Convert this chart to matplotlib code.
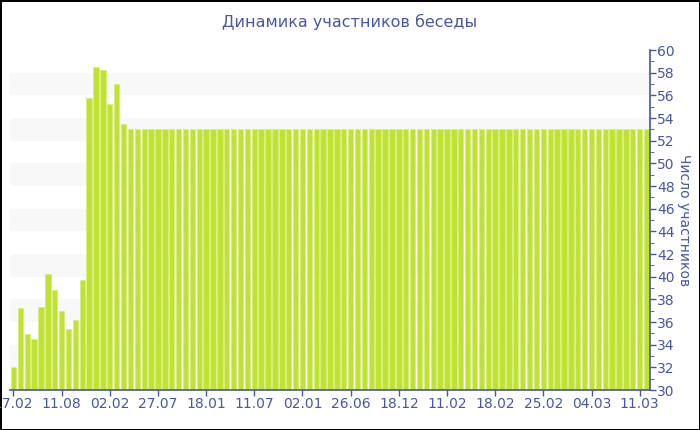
import numpy as np
import matplotlib
matplotlib.use('Agg')
import matplotlib.pyplot as plt
from matplotlib.ticker import MultipleLocator

# participants per day
head_values = [32.0, 37.2, 34.9, 34.5, 37.3, 40.2, 38.8, 37.0, 35.4, 36.2,
               39.7, 55.8, 58.5, 58.2, 55.2, 57.0, 53.5]
flat_values = [53.0] * 76
values = head_values + flat_values

date_labels = ['17.02', '11.08', '02.02', '27.07', '18.01', '11.07', '02.01',
               '26.06', '18.12', '11.02', '18.02', '25.02', '04.03', '11.03']
label_step = 7

title = 'Динамика участников беседы'
ylabel = 'Число участников'

blue = '#4558a0'
bar_color = '#bfe233'

fig = plt.figure(figsize=(7, 4.3), dpi=100)
fig.patch.set_edgecolor('black')
fig.patch.set_linewidth(2)
ax = fig.add_axes([10 / 700, 40 / 430, 640 / 700, 340 / 430])

x = np.arange(len(values))
ax.set_xlim(-0.5, len(values) - 0.5)
ax.set_ylim(30, 60)

# alternating light bands
for lo in range(32, 60, 4):
    ax.axhspan(lo, lo + 2, color='#f8f8f8', zorder=0, lw=0)

ax.bar(x, values, width=0.78, color=bar_color, edgecolor='#d4ee7a',
       linewidth=0.5, zorder=2)

ax.set_xticks(x[::label_step])
ax.set_xticklabels(date_labels[:len(x[::label_step])])

ax.yaxis.tick_right()
ax.yaxis.set_label_position('right')
ax.yaxis.set_major_locator(MultipleLocator(2))
ax.yaxis.set_minor_locator(MultipleLocator(1))

for s in ['top', 'left']:
    ax.spines[s].set_visible(False)
for s in ['bottom', 'right']:
    ax.spines[s].set_color(blue)
    ax.spines[s].set_linewidth(1.2)

ax.tick_params(axis='both', colors=blue, labelsize=10, length=4, width=1, pad=1)
ax.tick_params(axis='y', which='minor', colors=blue, length=3)

ax.set_ylabel(ylabel, color=blue, fontsize=10, rotation=-90, labelpad=12)
fig.text(0.5, 1 - 22 / 430, title, ha='center', va='center', color=blue, fontsize=11.5)

fig.savefig('out.png', dpi=100, edgecolor=fig.get_edgecolor())
